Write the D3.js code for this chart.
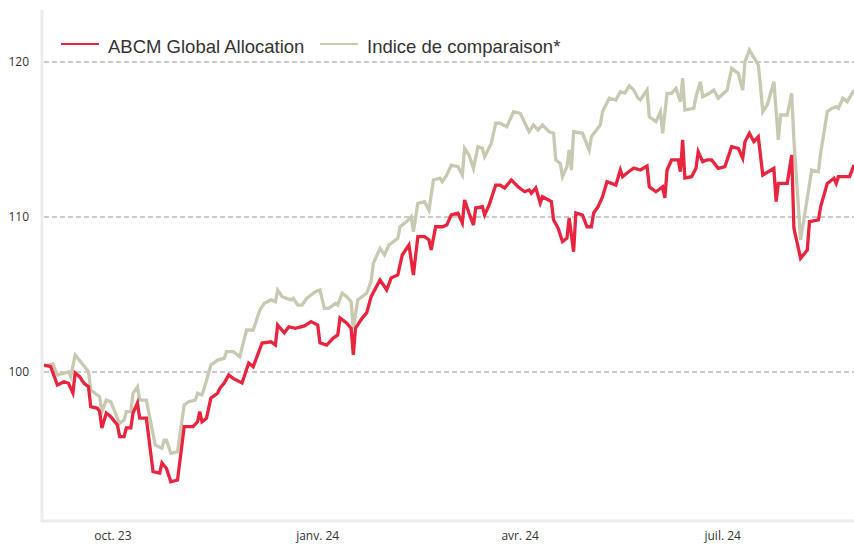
<!DOCTYPE html>
<html>
<head>
<meta charset="utf-8">
<script src="https://d3js.org/d3.v7.min.js"></script>
<style>
body { margin:0; background:#fff; }
svg { display:block; }
.tick-label { font-family:"Open Sans", sans-serif; font-size:12px; fill:#333; }
.legend-label { font-family:"Liberation Sans", Arial, sans-serif; font-size:18.5px; fill:#333; }
</style>
</head>
<body>
<svg id="chart"></svg>
<script>
// series are stored as day offsets from startDate plus values
var startDate = new Date(2023, 7, 31);
var endOffset = 364;

var seriesNames = ["ABCM Global Allocation", "Indice de comparaison*"];

var abcmDays = [0,3,6,9,11,13,14,16,18,20,21,24,25,26,28,30,33,34,36,37,39,40,42,43,46,49,52,53,55,57,60,63,67,69,70,71,73,75,78,79,81,83,85,89,92,
    94,96,98,102,104,105,108,110,113,117,120,123,124,127,130,132,133,136,138,139,140,143,145,147,151,154,156,159,161,164,166,168,171,173,174,
    176,179,181,183,186,188,189,191,193,194,197,198,200,203,205,207,210,213,216,218,219,221,223,224,228,229,231,233,235,236,238,239,242,244,246,247,249,251,253,257,
    259,260,262,265,268,271,272,275,278,279,280,282,285,286,287,288,291,293,294,296,298,300,303,306,309,312,314,315,317,319,321,323,328,329,330,334,336,337,
    340,343,344,348,349,352,355,356,357,362,364];
var abcmValues = [100.45,100.34,99.16,99.37,99.27,98.65,99.94,99.70,99.27,99.05,97.76,97.66,97.44,96.39,97.35,97.12,96.58,95.83,95.83,96.39,96.39,97.35,98.00,97.03,97.03,93.57,93.48,94.13,93.79,92.92,93.03,96.47,96.47,96.79,97.44,96.79,97.01,98.32,98.63,98.95,99.29,99.81,99.59,99.29,100.58,
    100.34,101.10,101.87,101.95,101.74,103.03,102.52,102.92,102.82,102.97,103.25,103.03,101.89,101.74,102.19,102.39,103.48,103.16,102.82,101.10,102.84,103.48,103.81,104.86,105.94,105.29,106.06,106.26,107.55,108.19,106.26,108.73,108.73,108.52,107.87,
    109.37,109.37,109.48,110.13,110.24,109.61,111.10,110.26,109.48,110.58,110.66,110.13,110.77,112.06,112.06,111.87,112.39,111.95,111.63,111.74,111.53,111.87,110.90,111.31,110.99,109.81,109.29,108.41,108.63,109.94,107.76,110.26,110.13,109.37,109.37,110.26,110.66,111.31,112.28,112.06,
    113.03,112.60,112.84,113.16,113.03,113.29,111.95,111.63,111.95,111.23,113.03,113.68,113.68,112.92,114.97,112.52,112.60,113.14,114.21,113.57,113.68,113.68,113.14,113.25,114.54,114.43,113.79,114.86,115.40,114.86,115.18,112.71,113.14,110.99,112.17,112.17,114.00,109.27,
    107.34,107.87,109.70,109.81,110.66,112.17,112.50,112.17,112.60,112.60,113.35];

var indexDays = [0,2,4,6,9,11,12,14,17,20,21,25,26,28,30,34,36,37,39,40,42,43,46,50,53,54,55,57,60,63,65,68,69,71,72,75,78,81,82,85,88,91,94,
    97,99,102,104,105,107,109,111,112,114,116,118,120,122,124,126,128,131,132,134,136,138,139,141,143,145,147,148,151,153,155,157,159,160,163,165,166,168,171,173,
    175,178,179,181,183,186,188,189,191,193,195,197,198,201,203,205,208,211,214,218,220,222,224,227,229,230,232,233,235,236,237,238,242,245,246,250,251,254,257,
    259,261,263,265,267,268,271,272,275,277,278,280,282,284,286,287,288,292,293,295,296,299,301,303,307,309,312,314,315,317,321,322,323,325,328,330,331,334,336,337,
    340,343,345,348,349,352,354,356,357,359,361,364];
var indexValues = [100.34,100.45,100.52,99.81,99.92,100.02,99.70,101.10,100.56,100.02,98.84,98.41,97.44,98.19,98.08,96.69,96.90,97.44,97.44,98.63,99.05,98.19,98.19,95.29,95.08,95.61,95.61,94.75,94.86,97.87,98.08,98.19,98.63,98.52,98.95,100.45,100.77,100.88,101.31,101.31,100.99,102.71,102.71,
    104.00,104.43,104.65,104.54,105.29,104.86,104.75,104.65,104.75,104.32,104.32,104.75,104.97,105.18,105.29,104.11,104.11,104.43,104.32,105.08,104.86,104.54,102.82,104.65,104.86,105.08,105.83,107.01,107.98,107.55,108.19,108.41,108.63,109.37,109.70,110.02,109.05,110.88,110.99,110.45,
    112.39,112.50,112.28,112.71,113.35,113.25,112.71,114.43,114.00,113.14,114.54,114.43,113.89,114.75,116.05,116.05,115.83,116.79,116.69,115.50,115.94,115.61,115.94,115.50,115.40,113.68,113.46,112.60,113.25,114.32,113.03,115.50,115.40,114.32,115.18,115.94,116.79,117.66,117.55,
    118.08,118.00,118.46,118.19,117.66,117.55,118.19,116.47,116.15,116.79,115.40,117.98,117.98,118.30,117.44,118.95,116.90,117.01,117.76,118.73,117.76,117.98,118.19,117.66,118.19,119.59,119.27,118.19,120.02,120.77,119.81,118.41,116.79,117.23,118.73,114.97,116.58,116.58,117.98,114.97,
    108.52,111.21,113.03,112.92,114.11,116.79,117.01,117.12,117.01,117.66,117.44,118.19];

var yTicks = [100, 110, 120];
var xTickDates = ["2023-10-01", "2024-01-01", "2024-04-01", "2024-07-01"];
var xTickLabels = ["oct. 23", "janv. 24", "avr. 24", "juil. 24"];

var colors = ["#e9243f", "#c9c9b2"];

var toPoints = function(days, values)
{
    return days.map(function(d, i) {
        return {date: d3.timeDay.offset(startDate, d), value: values[i]};
    });
}

var initGraph = function()
{
    var screen = {width:854, height:545};
    var plot = {left:44, right:854, top:10, bottom:521};

    var svg = d3.select("#chart")
        .attr("width", screen.width)
        .attr("height", screen.height);

    var xScale = d3.scaleTime()
        .domain([startDate, d3.timeDay.offset(startDate, endOffset)])
        .range([plot.left, plot.right]);

    var yScale = d3.scaleLinear()
        .domain([100, 120])
        .range([372, 62]);

    // gridlines
    svg.append("g")
        .selectAll("line")
        .data(yTicks)
        .enter()
        .append("line")
        .attr("x1", plot.left)
        .attr("x2", plot.right)
        .attr("y1", function(t) { return yScale(t); })
        .attr("y2", function(t) { return yScale(t); })
        .attr("stroke", "#b9b9b9")
        .attr("stroke-width", 1.4)
        .attr("stroke-dasharray", "5,3");

    // y labels
    svg.append("g")
        .selectAll("text")
        .data(yTicks)
        .enter()
        .append("text")
        .classed("tick-label", true)
        .attr("x", 29)
        .attr("y", function(t) { return yScale(t); })
        .attr("dy", "0.35em")
        .attr("text-anchor", "end")
        .text(function(t) { return t; });

    // x labels
    var parse = d3.timeParse("%Y-%m-%d");
    svg.append("g")
        .selectAll("text")
        .data(xTickDates)
        .enter()
        .append("text")
        .classed("tick-label", true)
        .attr("x", function(d) { return xScale(parse(d)); })
        .attr("y", 540)
        .attr("text-anchor", "middle")
        .text(function(d, i) { return xTickLabels[i]; });

    var lineGenerator = d3.line()
        .x(function(p) { return xScale(p.date); })
        .y(function(p) { return yScale(p.value); });

    var series = [toPoints(indexDays, indexValues), toPoints(abcmDays, abcmValues)];
    var seriesColors = [colors[1], colors[0]];

    svg.append("g")
        .selectAll("path")
        .data(series)
        .enter()
        .append("path")
        .attr("fill", "none")
        .attr("stroke", function(s, i) { return seriesColors[i]; })
        .attr("stroke-width", 3.3)
        .attr("d", lineGenerator);

    // axis frame lines
    svg.append("line")
        .attr("x1", 42).attr("x2", 42)
        .attr("y1", plot.top).attr("y2", plot.bottom + 1)
        .attr("stroke", "#ececec")
        .attr("stroke-width", 3);
    svg.append("line")
        .attr("x1", 41).attr("x2", plot.right)
        .attr("y1", plot.bottom).attr("y2", plot.bottom)
        .attr("stroke", "#ececec")
        .attr("stroke-width", 3);

    // legend
    var legendX = [61, 320];
    var legend = svg.append("g")
        .selectAll("g")
        .data(seriesNames)
        .enter()
        .append("g")
        .attr("transform", function(n, i) { return "translate(" + legendX[i] + ",44)"; });
    legend.append("line")
        .attr("x1", 0).attr("x2", 38)
        .attr("stroke", function(n, i) { return colors[i]; })
        .attr("stroke-width", 2);
    legend.append("text")
        .classed("legend-label", true)
        .attr("x", 47)
        .attr("y", 8.6)
        .text(function(n) { return n; });
}

initGraph();
</script>
</body>
</html>
